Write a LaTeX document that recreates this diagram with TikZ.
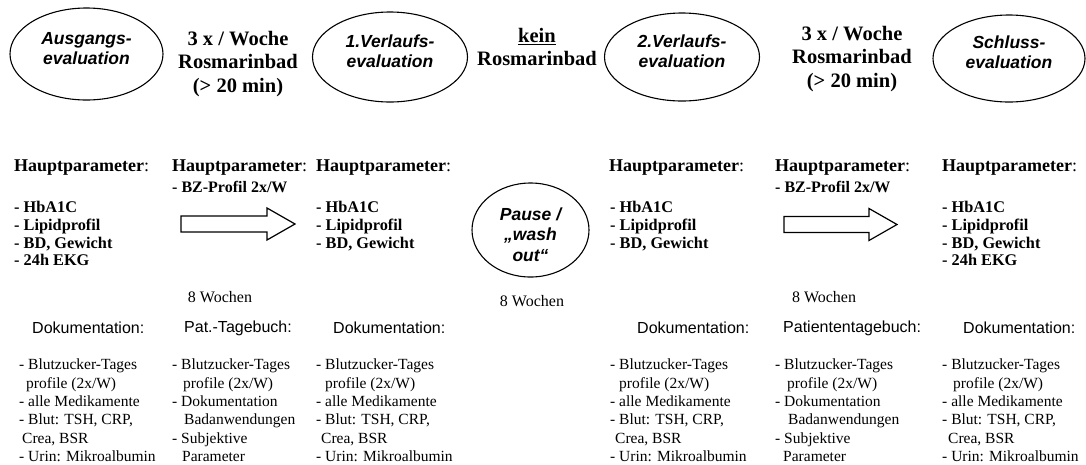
\documentclass[tikz,border=0pt]{standalone}
\usepackage{fontspec}
\setmainfont{Liberation Serif}
\setsansfont{Liberation Sans}
\usetikzlibrary{shapes.geometric,calc}
\newcommand{\evtext}[2][0pt]{\raisebox{#1}[0pt][0pt]{\begin{tabular}{@{}c@{}}#2\end{tabular}}}
\begin{document}
\begin{tikzpicture}[x=1pt,y=-1pt,
  evnode/.style={draw, ellipse, line width=1.1pt, inner sep=0pt, align=center,
    font=\sffamily\bfseries\itshape\fontsize{17.5}{20}\selectfont},
  bathead/.style={inner sep=0pt, align=center, font=\bfseries\fontsize{20.5}{23.5}\selectfont},
  hp/.style={anchor=west, inner sep=0pt, font=\fontsize{18}{20}\selectfont},
  bz/.style={anchor=west, inner sep=0pt, font=\bfseries\fontsize{16}{18}\selectfont},
  items/.style={anchor=north west, inner sep=0pt, align=left, font=\bfseries\fontsize{16.3}{17.8}\selectfont},
  weeks/.style={inner sep=0pt, font=\fontsize{16}{18}\selectfont},
  doclabel/.style={anchor=west, inner sep=0pt, font=\sffamily\fontsize{16}{18}\selectfont},
  doclist/.style={anchor=north west, inner sep=0pt, align=left, font=\fontsize{15.5}{18.3}\selectfont},
  blockarrow/.style={draw, line width=1.2pt, fill=white}
]
\useasboundingbox (0,0) rectangle (1086,464);

% ellipses
\node[evnode, minimum width=153, minimum height=92] (e1) at (86.5,54) {\evtext[-1pt]{Ausgangs-\\evaluation}};
\node[evnode, minimum width=155, minimum height=90] (e2) at (390,57) {\evtext[-0.5pt]{1.Verlaufs-\\evaluation}};
\node[evnode, minimum width=155, minimum height=88] (e3) at (682,57) {\evtext[-0.5pt]{2.Verlaufs-\\evaluation}};
\node[evnode, minimum width=152, minimum height=87] (e4) at (1009,58.5) {\evtext[0pt]{Schluss-\\evaluation}};
\node[evnode, minimum width=117, minimum height=94, font=\sffamily\bfseries\itshape\fontsize{17.5}{20.5}\selectfont] (pause) at (530.5,230) {\evtext[-11pt]{Pause /\\„wash\\out“}};

% top headings
\node[bathead] (bath1) at (238,64) {3 x / Woche\\Rosmarinbad\\(> 20 min)};
\node[bathead] (kein) at (537,47) {\underline{kein}\\Rosmarinbad};
\node[bathead] (bath2) at (852,59) {3 x / Woche\\Rosmarinbad\\(> 20 min)};

% Hauptparameter
\node[hp] (hp1) at (14,168) {\textbf{Hauptparameter}:};
\node[hp] (hp2) at (172,168) {\textbf{Hauptparameter}:};
\node[hp] (hp3) at (316,168) {\textbf{Hauptparameter}:};
\node[hp] (hp4) at (609,168) {\textbf{Hauptparameter}:};
\node[hp] (hp5) at (775,168) {\textbf{Hauptparameter}:};
\node[hp] (hp6) at (942,168) {\textbf{Hauptparameter}:};

\node[bz] (bz2) at (172,187) {- BZ-Profil 2x/W};
\node[bz] (bz5) at (775,187) {- BZ-Profil 2x/W};

\node[items] (it1) at (14,201) {- HbA1C\\- Lipidprofil\\- BD, Gewicht\\- 24h EKG};
\node[items] (it3) at (316,201) {- HbA1C\\- Lipidprofil\\- BD, Gewicht};
\node[items] (it4) at (610,201) {- HbA1C\\- Lipidprofil\\- BD, Gewicht};
\node[items] (it6) at (942,201) {- HbA1C\\- Lipidprofil\\- BD, Gewicht\\- 24h EKG};

% block arrows
\coordinate (a2) at (181,224);
\coordinate (a5) at (784,224.5);
\draw[blockarrow] ($(a2)+(0,-8)$) -- ++(86,0) -- ++(0,-8) -- ++(28,16) -- ++(-28,16) -- ++(0,-8) -- ++(-86,0) -- cycle;
\draw[blockarrow] ($(a5)+(0,-8)$) -- ++(85,0) -- ++(0,-8) -- ++(28,16) -- ++(-28,16) -- ++(0,-8) -- ++(-85,0) -- cycle;

% weeks
\node[weeks] (w1) at (220,297) {8 Wochen};
\node[weeks] (w2) at (532,301) {8 Wochen};
\node[weeks] (w3) at (824,297) {8 Wochen};

% documentation labels
\node[doclabel] (d1) at (32,328) {Dokumentation:};
\node[doclabel] (d2) at (184,328) {Pat.-Tagebuch:};
\node[doclabel] (d3) at (333,328) {Dokumentation:};
\node[doclabel] (d4) at (637,328) {Dokumentation:};
\node[doclabel] (d5) at (783,328) {Patiententagebuch:};
\node[doclabel] (d6) at (963,328) {Dokumentation:};

% documentation lists
\node[doclist] (l1) at (19,359) {- Blutzucker-Tages\\\hspace*{7pt}profile (2x/W)\\- alle Medikamente\\- Blut: TSH, CRP,\\\hspace*{3pt}Crea, BSR\\- Urin: Mikroalbumin};
\node[doclist] (l2) at (172,359) {- Blutzucker-Tages\\\hspace*{11pt}profile (2x/W)\\- Dokumentation\\\hspace*{12pt}Badanwendungen\\- Subjektive\\\hspace*{10pt}Parameter};
\node[doclist] (l3) at (316,359) {- Blutzucker-Tages\\\hspace*{9pt}profile (2x/W)\\- alle Medikamente\\- Blut: TSH, CRP,\\\hspace*{5pt}Crea, BSR\\- Urin: Mikroalbumin};
\node[doclist] (l4) at (610,359) {- Blutzucker-Tages\\\hspace*{9pt}profile (2x/W)\\- alle Medikamente\\- Blut: TSH, CRP,\\\hspace*{5pt}Crea, BSR\\- Urin: Mikroalbumin};
\node[doclist] (l5) at (775,359) {- Blutzucker-Tages\\\hspace*{12pt}profile (2x/W)\\- Dokumentation\\\hspace*{13pt}Badanwendungen\\- Subjektive\\\hspace*{8pt}Parameter};
\node[doclist] (l6) at (942,359) {- Blutzucker-Tages\\\hspace*{11pt}profile (2x/W)\\- alle Medikamente\\- Blut: TSH, CRP,\\\hspace*{6pt}Crea, BSR\\- Urin: Mikroalbumin};
\end{tikzpicture}
\end{document}
